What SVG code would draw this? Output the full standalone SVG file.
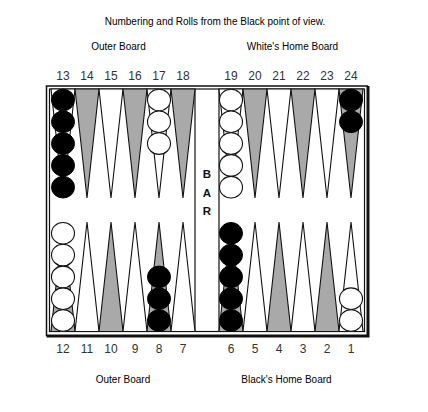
<svg xmlns="http://www.w3.org/2000/svg" width="428" height="412" viewBox="0 0 428 412">
<style>
.t{font-family:"Liberation Sans",Arial,sans-serif;font-size:10px;fill:#000}
.n{font-family:"Liberation Sans",Arial,sans-serif;font-size:12px;fill:#333;text-anchor:middle}
.bar{font-family:"Liberation Sans",Arial,sans-serif;font-size:11.5px;font-weight:bold;fill:#111;text-anchor:middle}
.pw{fill:#fff;stroke:#111;stroke-width:1.1;stroke-linejoin:miter}
.pg{fill:#a9a9a9;stroke:#111;stroke-width:1.1}
.cb{fill:#000;stroke:#000;stroke-width:1}
.cw{fill:#fff;stroke:#111;stroke-width:1.1}
</style>
<rect width="428" height="412" fill="#fff"/>
<text class="t" x="215" y="25" text-anchor="middle">Numbering and Rolls from the Black point of view.</text>
<text class="t" x="118.5" y="50" text-anchor="middle">Outer Board</text>
<text class="t" x="292.5" y="50" text-anchor="middle">White's Home Board</text>
<text class="t" x="123" y="383" text-anchor="middle">Outer Board</text>
<text class="t" x="286.5" y="383" text-anchor="middle">Black's Home Board</text>
<g id="top-numbers">
<text class="n" x="63" y="80">13</text><text class="n" x="87" y="80">14</text><text class="n" x="111" y="80">15</text><text class="n" x="135" y="80">16</text><text class="n" x="159" y="80">17</text><text class="n" x="183" y="80">18</text>
<text class="n" x="231" y="80">19</text><text class="n" x="255" y="80">20</text><text class="n" x="279" y="80">21</text><text class="n" x="303" y="80">22</text><text class="n" x="327" y="80">23</text><text class="n" x="351" y="80">24</text>
</g>
<g id="bottom-numbers">
<text class="n" x="63" y="353">12</text><text class="n" x="87" y="353">11</text><text class="n" x="111" y="353">10</text><text class="n" x="135" y="353">9</text><text class="n" x="159" y="353">8</text><text class="n" x="183" y="353">7</text>
<text class="n" x="231" y="353">6</text><text class="n" x="255" y="353">5</text><text class="n" x="279" y="353">4</text><text class="n" x="303" y="353">3</text><text class="n" x="327" y="353">2</text><text class="n" x="351" y="353">1</text>
</g>
<g id="board">
<path d="M46.5,336 L46.5,86 L368,86" fill="none" stroke="#111" stroke-width="1.5"/>
<path d="M368,86 L368,336 L46.5,336" fill="none" stroke="#111" stroke-width="3"/>
<rect x="49.5" y="89" width="315" height="242.5" fill="#fff" stroke="#111" stroke-width="1.2"/>
<line x1="195" y1="89" x2="195" y2="331.5" stroke="#111" stroke-width="1.2"/>
<line x1="219" y1="89" x2="219" y2="331.5" stroke="#111" stroke-width="1.2"/>
</g>
<g id="points-top">
<polygon class="pw" points="51,89 75,89 63,198"/>
<polygon class="pg" points="75,89 99,89 87,198"/>
<polygon class="pw" points="99,89 123,89 111,198"/>
<polygon class="pg" points="123,89 147,89 135,198"/>
<polygon class="pw" points="147,89 171,89 159,198"/>
<polygon class="pg" points="171,89 195,89 183,198"/>
<polygon class="pw" points="219,89 243,89 231,198"/>
<polygon class="pg" points="243,89 267,89 255,198"/>
<polygon class="pw" points="267,89 291,89 279,198"/>
<polygon class="pg" points="291,89 315,89 303,198"/>
<polygon class="pw" points="315,89 339,89 327,198"/>
<polygon class="pg" points="339,89 363,89 351,198"/>
</g>
<g id="points-bottom">
<polygon class="pg" points="51,331.5 75,331.5 63,222"/>
<polygon class="pw" points="75,331.5 99,331.5 87,222"/>
<polygon class="pg" points="99,331.5 123,331.5 111,222"/>
<polygon class="pw" points="123,331.5 147,331.5 135,222"/>
<polygon class="pg" points="147,331.5 171,331.5 159,222"/>
<polygon class="pw" points="171,331.5 195,331.5 183,222"/>
<polygon class="pg" points="219,331.5 243,331.5 231,222"/>
<polygon class="pw" points="243,331.5 267,331.5 255,222"/>
<polygon class="pg" points="267,331.5 291,331.5 279,222"/>
<polygon class="pw" points="291,331.5 315,331.5 303,222"/>
<polygon class="pg" points="315,331.5 339,331.5 327,222"/>
<polygon class="pw" points="339,331.5 363,331.5 351,222"/>
</g>
<g id="bar-label">
<text class="bar" x="207" y="177.5">B</text>
<text class="bar" x="207" y="196.5">A</text>
<text class="bar" x="207" y="215">R</text>
</g>
<g id="checkers-13">
<ellipse class="cb" cx="63" cy="100" rx="11.5" ry="10.8"/>
<ellipse class="cb" cx="63" cy="121.8" rx="11.5" ry="10.8"/>
<ellipse class="cb" cx="63" cy="143.6" rx="11.5" ry="10.8"/>
<ellipse class="cb" cx="63" cy="165.4" rx="11.5" ry="10.8"/>
<ellipse class="cb" cx="63" cy="187.2" rx="11.5" ry="10.8"/>
</g>
<g id="checkers-17">
<ellipse class="cw" cx="159" cy="100" rx="11.5" ry="10.8"/>
<ellipse class="cw" cx="159" cy="121.8" rx="11.5" ry="10.8"/>
<ellipse class="cw" cx="159" cy="143.6" rx="11.5" ry="10.8"/>
</g>
<g id="checkers-19">
<ellipse class="cw" cx="231" cy="100" rx="11.5" ry="10.8"/>
<ellipse class="cw" cx="231" cy="121.8" rx="11.5" ry="10.8"/>
<ellipse class="cw" cx="231" cy="143.6" rx="11.5" ry="10.8"/>
<ellipse class="cw" cx="231" cy="165.4" rx="11.5" ry="10.8"/>
<ellipse class="cw" cx="231" cy="187.2" rx="11.5" ry="10.8"/>
</g>
<g id="checkers-24">
<ellipse class="cb" cx="351" cy="100" rx="11.5" ry="10.8"/>
<ellipse class="cb" cx="351" cy="121.8" rx="11.5" ry="10.8"/>
</g>
<g id="checkers-12">
<ellipse class="cw" cx="63" cy="320.5" rx="11.5" ry="10.8"/>
<ellipse class="cw" cx="63" cy="298.7" rx="11.5" ry="10.8"/>
<ellipse class="cw" cx="63" cy="276.9" rx="11.5" ry="10.8"/>
<ellipse class="cw" cx="63" cy="255.1" rx="11.5" ry="10.8"/>
<ellipse class="cw" cx="63" cy="233.3" rx="11.5" ry="10.8"/>
</g>
<g id="checkers-8">
<ellipse class="cb" cx="159" cy="320.5" rx="11.5" ry="10.8"/>
<ellipse class="cb" cx="159" cy="298.7" rx="11.5" ry="10.8"/>
<ellipse class="cb" cx="159" cy="276.9" rx="11.5" ry="10.8"/>
</g>
<g id="checkers-6">
<ellipse class="cb" cx="231" cy="320.5" rx="11.5" ry="10.8"/>
<ellipse class="cb" cx="231" cy="298.7" rx="11.5" ry="10.8"/>
<ellipse class="cb" cx="231" cy="276.9" rx="11.5" ry="10.8"/>
<ellipse class="cb" cx="231" cy="255.1" rx="11.5" ry="10.8"/>
<ellipse class="cb" cx="231" cy="233.3" rx="11.5" ry="10.8"/>
</g>
<g id="checkers-1">
<ellipse class="cw" cx="351" cy="320.5" rx="11.5" ry="10.8"/>
<ellipse class="cw" cx="351" cy="298.7" rx="11.5" ry="10.8"/>
</g>
</svg>
